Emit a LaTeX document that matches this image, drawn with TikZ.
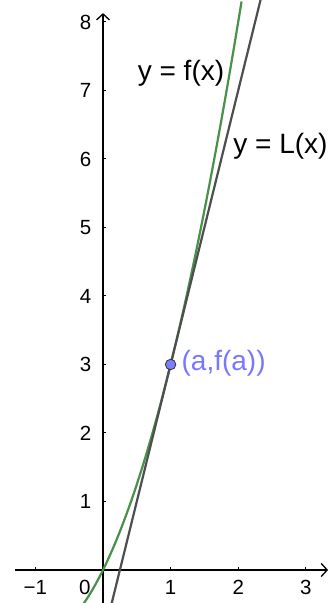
\documentclass[tikz,border=0pt]{standalone}
\usepackage{fontspec}
\setmainfont{Liberation Sans}
\usetikzlibrary{arrows.meta}
\definecolor{fgreen}{RGB}{72,145,72}
\definecolor{lgray}{RGB}{78,78,78}
\definecolor{ptfill}{RGB}{125,125,255}
\definecolor{ptlabel}{RGB}{120,120,255}
\tikzset{
  axis/.style={line width=1.3pt, -{Straight Barb[length=6pt,width=13pt,line width=1.3pt]}},
  ticklab/.style={font=\fontsize{20.5}{24}\selectfont, inner sep=0pt},
  curvelab/.style={font=\fontsize{28}{32}\selectfont, inner sep=0pt},
  fcurve/.style={fgreen, line width=2.2pt},
  lcurve/.style={lgray, line width=2.2pt},
}
\begin{document}
\begin{tikzpicture}[x=67.6pt,y=68.5pt]
\useasboundingbox (-1.5237,-0.4818) rectangle (3.3432,8.3212);
\fill[white] (-1.5237,-0.4818) rectangle (3.3432,8.3212);
\begin{scope}
\clip (-1.5237,-0.4818) rectangle (3.3432,8.3212);
% axes
\coordinate (xs) at (-1.30,0);
\coordinate (xe) at (3.33,0);
\coordinate (ys) at (0,-0.50);
\coordinate (ye) at (0,8.13);
\draw[axis] (xs) -- (xe);
\draw[axis] (ys) -- (ye);
% ticks
\foreach \i in {-1,1,2,3} \draw[line width=1pt] (\i,0) -- (\i,0.05);
\foreach \j in {1,...,8} \draw[line width=1pt] (0,\j) -- (0.05,\j);
% tick labels
\foreach \i/\t in {-1/{−1},1/1,2/2,3/3} \node[ticklab] (xl\i) at (\i,-0.25) {\t};
\node[ticklab] (xl0) at (-0.27,-0.25) {0};
\foreach \j in {1,...,8} \node[ticklab, anchor=east] (yl\j) at (-0.17,\j) {\j};
% curves
\draw[fcurve] plot[domain=-0.30:2.05, samples=80] (\x,{\x*\x+2*\x});
\draw[lcurve] plot[domain=0.11:2.36, samples=2] (\x,{4*\x-1});
\end{scope}
% point
\node[circle, draw=black!80, line width=0.8pt, fill=ptfill, minimum size=10.5pt, inner sep=0pt] (P) at (1,3) {};
\node[curvelab, text=ptlabel, anchor=west] (Plab) at (1.16,3.02) {(a,f(a))};
\node[curvelab] (flab) at (1.154,7.255) {y = f(x)};
\node[curvelab] (Llab) at (2.625,6.19) {y = L(x)};
\end{tikzpicture}
\end{document}
